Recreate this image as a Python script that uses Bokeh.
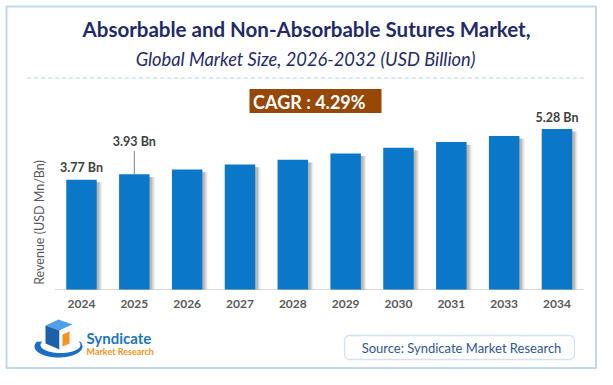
import numpy as np
from bokeh.plotting import figure
from bokeh.models import (Label, BoxAnnotation, PolyAnnotation, Range1d,
                          ColumnDataSource, FixedTicker)
from bokeh.transform import dodge
from bokeh.core.properties import value
from bokeh.embed import file_html
from bokeh.resources import INLINE

# ---------------- data ----------------
years = ["2024", "2025", "2026", "2027", "2028", "2029", "2030", "2031", "2033", "2034"]
revenue = [3.77, 3.93, 4.07, 4.22, 4.36, 4.55, 4.72, 4.89, 5.07, 5.28]
label_years = ["2024", "2025", "2034"]
label_values = [3.77, 3.93, 5.28]
label_texts = ["3.77 Bn", "3.93 Bn", "5.28 Bn"]
title_text = "Absorbable and Non-Absorbable Sutures Market,"
subtitle_text = "Global Market Size, 2026-2032 (USD Billion)"
cagr_text = "CAGR :  4.29%"
y_label_text = "Revenue (USD Mn/Bn)"
source_text = "Source: Syndicate Market Research"
brand_1 = "Syndicate"
brand_2 = "Market Research"

# ---------------- layout ----------------
W, H = 597, 369
BASE_PX = 289          # pixel row of the bar baseline
Y0 = 0.5               # value at the baseline
PX_PER_UNIT = 33.6
FIRST_PX = 81          # pixel column of the first bar centre
PX_PER_CAT = 52.83
BAR_W = 0.577
label_offsets = [0.36, 0.97, 0.34]
leader_len = 0.69

x_start = -FIRST_PX / PX_PER_CAT
x_end = x_start + W / PX_PER_CAT
y_start = Y0 - (H - BASE_PX) / PX_PER_UNIT
y_end = Y0 + BASE_PX / PX_PER_UNIT


def sx(px):
    return px


def sy(py):
    return H - py


def scr(**kw):
    d = {}
    for k, v in kw.items():
        d[k] = v
        d[k + "_units"] = "screen"
    return d


FONT = "Lato"
BAR = "#0A77C9"

xi = list(range(len(years)))
idx = {y: i for i, y in enumerate(years)}

p = figure(width=W, height=H, x_range=Range1d(x_start, x_end), y_range=Range1d(y_start, y_end),
           output_backend="svg", toolbar_location=None,
           min_border_left=0, min_border_right=0, min_border_top=0, min_border_bottom=0)
p.outline_line_color = None
p.xgrid.visible = False
p.ygrid.visible = False
p.yaxis.visible = False
p.background_fill_color = "white"
p.border_fill_color = "white"

xa = p.xaxis[0]
xa.fixed_location = Y0
xa.ticker = FixedTicker(ticks=xi)
xa.major_label_overrides = {i: y for i, y in zip(xi, years)}
xa.axis_line_color = None
xa.major_tick_line_color = None
xa.minor_tick_line_color = None
xa.major_tick_out = 0
xa.major_tick_in = 0
xa.major_label_standoff = 10
xa.major_label_text_font = FONT
xa.major_label_text_font_style = "bold"
xa.major_label_text_font_size = "12px"
xa.major_label_text_color = "#595959"

# baseline
p.segment(x0=[xi[0] - 0.5], y0=[Y0], x1=[xi[-1] + 0.5], y1=[Y0], line_color="#D9D9D9", line_width=1)

src = ColumnDataSource(dict(x=xi, revenue=revenue, shadow=[v - 0.08 for v in revenue]))

# bar shadows
for off, a in [(0.1, 0.10), (0.075, 0.16), (0.05, 0.25)]:
    p.vbar(x=dodge("x", off), top="shadow", bottom=Y0, width=BAR_W,
           source=src, fill_color="#606060", fill_alpha=a, line_color=None)

p.vbar(x="x", top="revenue", bottom=Y0, width=BAR_W, source=src,
       fill_color=BAR, line_color=None)

lsrc = ColumnDataSource(dict(x=[idx[y] for y in label_years],
                             y=[v + o for v, o in zip(label_values, label_offsets)],
                             t=label_texts))
p.text(x="x", y="y", text="t", source=lsrc, text_align="center", text_baseline="middle",
       text_font=value(FONT), text_font_style="bold", text_font_size="12.5px",
       text_color="#404040")

p.segment(x0=[idx[label_years[1]]], y0=[label_values[1]], x1=[idx[label_years[1]]],
          y1=[label_values[1] + leader_len], line_color="#808080", line_width=1)

# outer border
p.add_layout(BoxAnnotation(**scr(left=sx(6), right=sx(595.5), top=sy(6), bottom=sy(367.5)),
                           fill_alpha=0, line_color="#3A7DC4", line_width=2))

# titles
p.add_layout(Label(**scr(x=sx(306), y=sy(28)), text=title_text,
                   text_align="center", text_baseline="middle", text_font=FONT,
                   text_font_style="bold", text_font_size="20.5px", text_color="#1F2A6B"))
p.add_layout(Label(**scr(x=sx(305), y=sy(58)), text=subtitle_text,
                   text_align="center", text_baseline="middle", text_font=FONT,
                   text_font_style="italic", text_font_size="18.3px", text_color="#1F2A6B"))

# dashed separator
p.add_layout(BoxAnnotation(**scr(left=sx(27), right=sx(585), top=sy(77.5), bottom=sy(77.5)),
                           fill_alpha=0, line_color="#7F9ED4", line_width=1, line_dash="4 3"))

# CAGR box
p.add_layout(BoxAnnotation(**scr(left=sx(249), right=sx(381), top=sy(88.5), bottom=sy(112.5)),
                           fill_color="#974706", fill_alpha=1, line_color=None))
p.add_layout(Label(**scr(x=sx(311), y=sy(101)), text=cagr_text,
                   text_align="center", text_baseline="middle", text_font=FONT,
                   text_font_style="bold", text_font_size="18px", text_color="white"))

# y label
p.add_layout(Label(**scr(x=sx(39), y=sy(222)), text=y_label_text,
                   angle=np.pi / 2, text_align="center", text_baseline="middle", text_font=FONT,
                   text_font_size="12.5px", text_color="#595959"))

# source box
p.add_layout(BoxAnnotation(**scr(left=sx(344), right=sx(574), top=sy(335), bottom=sy(359)),
                           fill_color="white", fill_alpha=1,
                           line_color="#6E9DD6", line_width=1.3, border_radius=5))
p.add_layout(Label(**scr(x=sx(461), y=sy(347)), text=source_text,
                   text_align="center", text_baseline="middle", text_font=FONT,
                   text_font_size="13px", text_color="#2F5597"))

# logo: swoosh
t = np.linspace(np.radians(-25), np.radians(205), 60)
ox = 58 + 24 * np.cos(t)
oy = 346 + 11 * np.sin(t)
ix = 60 + 20 * np.cos(t[::-1])
iy = 344.5 + 8 * np.sin(t[::-1])
p.add_layout(PolyAnnotation(xs=[sx(v) for v in np.concatenate([ox, ix])],
                            ys=[sy(v) for v in np.concatenate([oy, iy])],
                            xs_units="screen", ys_units="screen",
                            fill_color="#1B6FC2", fill_alpha=1, line_color=None))
# logo: cube
faces = [
    ([45, 58, 72, 59], [325, 319, 324, 330], "#4FA0E8"),
    ([45, 59, 59, 45], [325, 330, 349, 343], "#1D5FA8"),
    ([59, 72, 72, 59], [330, 324, 343, 349], "#F5F8FC"),
    ([62, 69, 69, 62], [334, 331, 343, 346], "#F7941D"),
]
for fx, fy, c in faces:
    p.add_layout(PolyAnnotation(xs=[sx(v) for v in fx], ys=[sy(v) for v in fy],
                                xs_units="screen", ys_units="screen",
                                fill_color=c, fill_alpha=1, line_color=None))

p.add_layout(Label(**scr(x=sx(86), y=sy(337)), text=brand_1,
                   text_align="left", text_baseline="middle", text_font=FONT,
                   text_font_style="bold", text_font_size="15px", text_color="#1B75BC"))
p.add_layout(Label(**scr(x=sx(86), y=sy(351)), text=brand_2,
                   text_align="left", text_baseline="middle", text_font=FONT,
                   text_font_style="bold", text_font_size="9px", text_color="#F7941D"))

open("out.html", "w").write(file_html(p, INLINE))
